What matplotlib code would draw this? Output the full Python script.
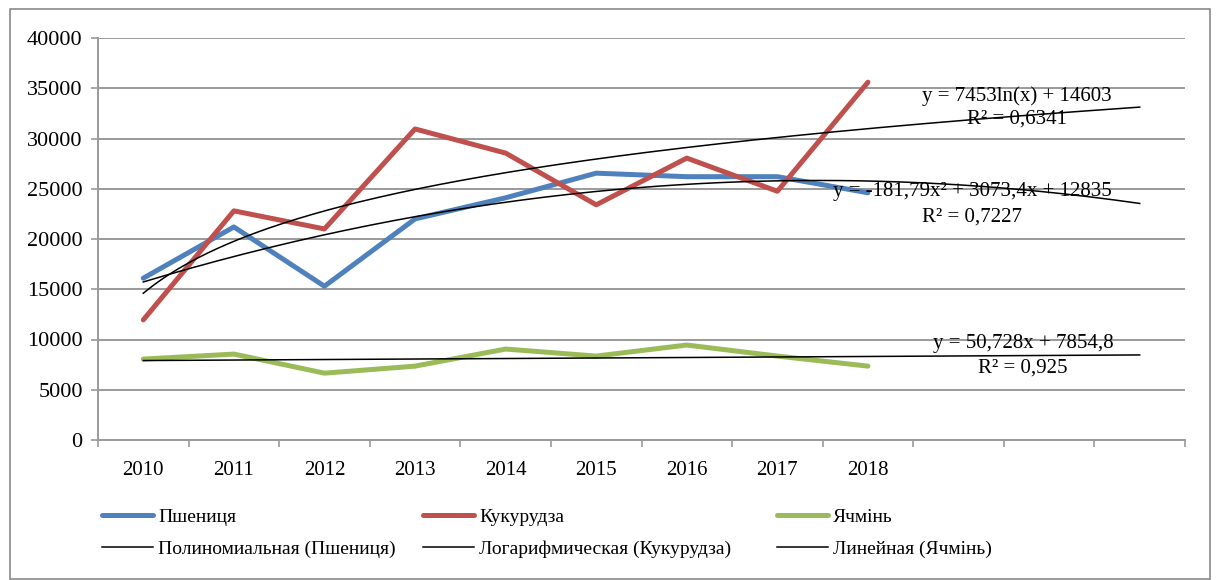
import matplotlib.pyplot as plt
import numpy as np
from matplotlib.patches import Rectangle

plt.rcParams['font.family'] = ['Liberation Serif', 'DejaVu Serif']
plt.rcParams['font.size'] = 15

years = ['2010', '2011', '2012', '2013', '2014', '2015', '2016', '2017', '2018']
n_slots = 12  # three extra periods for the trendline forecast

wheat = [16100, 21200, 15300, 22000, 24100, 26550, 26200, 26200, 24600]
corn = [11950, 22800, 21000, 30950, 28550, 23400, 28050, 24750, 35600]
barley = [8050, 8550, 6650, 7350, 9050, 8350, 9450, 8350, 7350]

# trendline coefficients as printed on the chart
poly_wheat = [-181.79, 3073.4, 12835]
log_corn = [7453, 14603]
lin_barley = [50.728, 7854.8]

blue = '#4F81BD'
red = '#C0504D'
green = '#9BBB59'
grid_c = '#9a9a9a'

fig = plt.figure(figsize=(12.16, 5.8), dpi=100)
ax = fig.add_axes([98 / 1216, 1 - 440 / 580, (1185 - 98) / 1216, (440 - 38) / 580])

x = np.arange(len(years))
kw = dict(lw=3.6, solid_joinstyle='round', solid_capstyle='round', zorder=3)
h1, = ax.plot(x, wheat, color=blue, label='Пшениця', **kw)
h2, = ax.plot(x, corn, color=red, label='Кукурудза', **kw)
h3, = ax.plot(x, barley, color=green, label='Ячмінь', **kw)

t = np.linspace(1, n_slots, 200)
t1, = ax.plot(t - 1, np.polyval(poly_wheat, t), color='black', lw=1.1,
              label='Полиномиальная (Пшениця)', zorder=4)
t2, = ax.plot(t - 1, log_corn[0] * np.log(t) + log_corn[1], color='black', lw=1.1,
              label='Логарифмическая (Кукурудза)', zorder=4)
t3, = ax.plot(t - 1, np.polyval(lin_barley, t), color='black', lw=1.1,
              label='Линейная (Ячмінь)', zorder=4)

ax.text(9.64, 34200, 'y = 7453ln(x) + 14603', ha='center', va='center', zorder=5)
ax.text(9.64, 31900, 'R² = 0,6341', ha='center', va='center', zorder=5)
ax.text(9.15, 24700, 'y = -181,79x² + 3073,4x + 12835', ha='center', va='center', zorder=5)
ax.text(9.15, 22200, 'R² = 0,7227', ha='center', va='center', zorder=5)
ax.text(9.71, 9650, 'y = 50,728x + 7854,8', ha='center', va='center', zorder=5)
ax.text(9.71, 7150, 'R² = 0,925', ha='center', va='center', zorder=5)

ax.set_xlim(-0.5, n_slots - 0.5)
ax.set_ylim(0, 40000)
ax.set_yticks(np.arange(0, 40001, 5000))
ax.yaxis.grid(True, color=grid_c, lw=1.4)
ax.set_axisbelow(True)

ax.set_xticks(x)
ax.set_xticklabels(years)
ax.set_xticks(np.arange(-0.5, n_slots, 1), minor=True)
ax.tick_params(axis='x', which='major', length=0, pad=15, labelsize=15)
ax.tick_params(axis='x', which='minor', length=5, color=grid_c, width=1.2)
ax.tick_params(axis='y', length=5, color=grid_c, width=1.2, pad=6, labelsize=16)

for s in ['top', 'right']:
    ax.spines[s].set_visible(False)
for s in ['left', 'bottom']:
    ax.spines[s].set_color(grid_c)
    ax.spines[s].set_linewidth(1.4)

# one legend per column, placed like the original
cols = [([h1, t1], 102), ([h2, t2], 423), ([h3, t3], 777)]
for hs, px in cols:
    leg = fig.legend(hs, [h.get_label() for h in hs], frameon=False,
                     loc='upper left', bbox_to_anchor=(px / 1216, 1 - 508 / 580),
                     borderpad=0, borderaxespad=0, handlelength=2.63,
                     handletextpad=0.26, labelspacing=0.75, fontsize=14)

fig.patches.append(Rectangle((10 / 1216, 1 / 580), 1200 / 1216, 570 / 580,
                             transform=fig.transFigure, fill=False,
                             edgecolor='#8a8a8a', lw=1.2))

fig.savefig('out.png', dpi=100)
